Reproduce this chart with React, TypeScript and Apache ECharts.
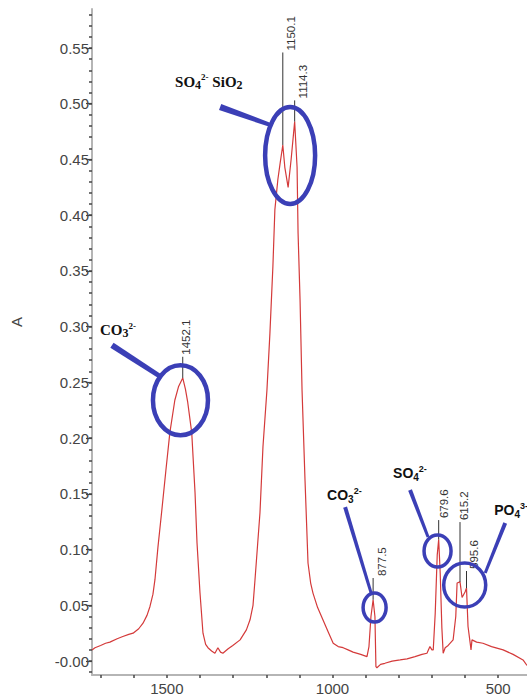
import React, { useEffect, useRef } from 'react';
import * as echarts from 'echarts';

// Spectrum (wavenumber cm-1, absorbance)
const wavenumbers = [
  1726, 1717, 1700, 1685, 1672, 1650, 1633, 1615, 1602, 1585, 1572, 1560, 1551, 1542, 1536, 1527,
  1515, 1503, 1491, 1476, 1465, 1452.1, 1444, 1437, 1425, 1415, 1409, 1400, 1391, 1383, 1376, 1365,
  1355, 1346, 1338, 1331, 1315, 1301, 1279, 1260, 1249, 1240, 1234, 1226, 1219, 1210, 1198, 1189,
  1180, 1174, 1165, 1158, 1150.1, 1144, 1134, 1125, 1114.3, 1107, 1104, 1098, 1092, 1083, 1074, 1066,
  1059, 1045, 1029, 1013, 998, 983, 968, 953, 938, 915, 896, 890, 884, 877.5, 872, 869,
  866, 855, 842, 820, 796, 775, 751, 730, 715, 706, 700, 696, 690, 684, 679.6, 675,
  670, 666, 660, 651, 636, 628, 624, 615.2, 609, 600, 595.6, 591, 584, 582, 579, 565,
  546, 520, 485, 455, 425, 413,
];
const absorbance = [
  0.010, 0.012, 0.014, 0.016, 0.017, 0.020, 0.022, 0.024, 0.025, 0.029, 0.034, 0.041, 0.049, 0.060, 0.073, 0.102,
  0.136, 0.171, 0.205, 0.234, 0.246, 0.254, 0.244, 0.232, 0.205, 0.151, 0.106, 0.061, 0.025, 0.015, 0.012, 0.009,
  0.007, 0.012, 0.008, 0.007, 0.011, 0.014, 0.019, 0.028, 0.037, 0.050, 0.073, 0.105, 0.133, 0.192, 0.243, 0.294,
  0.354, 0.405, 0.432, 0.447, 0.463, 0.443, 0.425, 0.450, 0.484, 0.443, 0.384, 0.324, 0.243, 0.162, 0.088, 0.070,
  0.061, 0.048, 0.037, 0.026, 0.016, 0.013, 0.012, 0.010, 0.008, 0.006, 0.004, 0.013, 0.040, 0.055, 0.040, -0.005,
  -0.006, -0.003, -0.002, 0.000, 0.001, 0.002, 0.004, 0.006, 0.007, 0.013, 0.010, 0.010, 0.043, 0.095, 0.109, 0.079,
  0.030, 0.007, 0.012, 0.014, 0.019, 0.040, 0.070, 0.071, 0.057, 0.062, 0.0655, 0.031, 0.015, 0.010, 0.019, 0.017,
  0.016, 0.013, 0.010, 0.006, 0.001, -0.004,
];

const xTickValues = [1700, 1600, 1500, 1400, 1300, 1200, 1100, 1000, 900, 800, 700, 600, 500];
const xLabelValues = [1500, 1000, 500];
const yLabelValues = [0, 0.05, 0.1, 0.15, 0.2, 0.25, 0.3, 0.35, 0.4, 0.45, 0.5, 0.55];
const yMinorValues = Array.from({ length: 60 }, (_, i) => (i - 1) / 100);

// Peak labels
const peakWavenumbers = [1452.1, 1150.1, 1114.3, 877.5, 679.6, 615.2, 595.6];
const peakAbsorbance = [0.254, 0.463, 0.484, 0.055, 0.109, 0.071, 0.0655];
const peakLineTops = [0.273, 0.546, 0.503, 0.0745, 0.1265, 0.1247, 0.0808];
const peakLabels = ['1452.1', '1150.1', '1114.3', '877.5', '679.6', '615.2', '595.6'];
const peakTextOffsets = [3, 8, 8, 9, 5, 4, 7];

// Annotation ellipse centres (wavenumber, absorbance)
const annotationCenters = [
  [1459, 0.234],
  [1128, 0.4536],
  [873, 0.048],
  [683, 0.0987],
  [601, 0.0682],
];
const annotationTexts = [
  '{m|CO}{s|3}{p|2-}',
  '{m|SO}{s|4}{p|2-}{m| SiO}{s|2}',
  '{m|CO}{s|3}{p|2-}',
  '{m|SO}{s|4}{p|2-}',
  '{m|PO}{s|4}{p|3-}',
];

const BLUE = '#3b3fb6';
const serifRich = {
  m: { fontFamily: 'Liberation Serif', fontWeight: 'bold', fontSize: 15, fill: '#111', lineHeight: 18, verticalAlign: 'middle' },
  s: { fontFamily: 'Liberation Serif', fontWeight: 'bold', fontSize: 12, fill: '#111', lineHeight: 12, verticalAlign: 'bottom' },
  p: { fontFamily: 'Liberation Serif', fontWeight: 'bold', fontSize: 9, fill: '#111', lineHeight: 10, verticalAlign: 'top' },
};
const sansRich = {
  m: { fontFamily: 'Liberation Sans', fontWeight: 'bold', fontSize: 14, fill: '#111', lineHeight: 18, verticalAlign: 'middle' },
  s: { fontFamily: 'Liberation Sans', fontWeight: 'bold', fontSize: 10, fill: '#111', lineHeight: 11, verticalAlign: 'bottom' },
  p: { fontFamily: 'Liberation Sans', fontWeight: 'bold', fontSize: 9, fill: '#111', lineHeight: 10, verticalAlign: 'top' },
};
// layout in pixels relative to ellipse centre
const annotationLayout = [
  { rx: 27.5, ry: 35, lw: 4.5, from: [-68.5, -55], to: [-19, -23], w1: 6, w2: 4.5, text: [-80.5, -70], rich: serifRich },
  { rx: 25, ry: 48.5, lw: 4.5, from: [-70, -48.5], to: [-20, -30.5], w1: 6.5, w2: 4, text: [-115, -73.5], rich: serifRich },
  { rx: 11.5, ry: 14.5, lw: 3.5, from: [-29.5, -100.5], to: [-3, -13], w1: 4, w2: 3, text: [-47.5, -112.5], rich: sansRich },
  { rx: 13.5, ry: 16, lw: 3.5, from: [-27.5, -61], to: [-9.5, -14], w1: 4, w2: 3, text: [-44.5, -78], rich: sansRich },
  { rx: 21, ry: 22, lw: 3.5, from: [40.5, -62], to: [20.5, -12], w1: 4, w2: 3, text: [29.5, -75], rich: sansRich },
];

function taper(p: number[], q: number[], w1: number, w2: number) {
  const dx = q[0] - p[0];
  const dy = q[1] - p[1];
  const len = Math.sqrt(dx * dx + dy * dy) || 1;
  const nx = -dy / len;
  const ny = dx / len;
  return [
    [p[0] + (nx * w1) / 2, p[1] + (ny * w1) / 2],
    [q[0] + (nx * w2) / 2, q[1] + (ny * w2) / 2],
    [q[0] - (nx * w2) / 2, q[1] - (ny * w2) / 2],
    [p[0] - (nx * w1) / 2, p[1] - (ny * w1) / 2],
  ];
}

export default function App() {
  const ref = useRef<HTMLDivElement>(null);
  useEffect(() => {
    if (!ref.current) return;
    const chart = echarts.init(ref.current, null, { renderer: 'svg' });
    const labelFont = { fontFamily: 'Liberation Sans', fontSize: 15, color: '#444' };
    const option: any = {
      animation: false,
      backgroundColor: '#fff',
      grid: { left: 92, right: 0, top: 9, bottom: 23, containLabel: false },
      xAxis: [
        {
          type: 'value',
          inverse: true,
          min: 413,
          max: 1726,
          axisLine: { show: true, onZero: false, lineStyle: { color: '#b5b5b5', width: 2 } },
          axisTick: { show: true, customValues: xTickValues, length: 3, lineStyle: { color: '#444', width: 1.5 } },
          axisLabel: {
            show: true,
            customValues: xLabelValues,
            margin: 6,
            ...labelFont,
            formatter: (v: number) => String(Math.round(v)),
          },
          splitLine: { show: false },
        },
      ],
      yAxis: [
        {
          type: 'value',
          min: -0.0125,
          max: 0.585,
          axisLine: { show: true, onZero: false, lineStyle: { color: '#b5b5b5', width: 2 } },
          axisTick: { show: true, customValues: yLabelValues, length: 6, lineStyle: { color: '#444', width: 1.2 } },
          axisLabel: {
            show: true,
            customValues: yLabelValues,
            margin: 3,
            ...labelFont,
            formatter: (v: number) => (Math.abs(v) < 1e-9 ? '-0.00' : v.toFixed(2)),
          },
          splitLine: { show: false },
        },
        {
          type: 'value',
          min: -0.0125,
          max: 0.585,
          position: 'left',
          axisLine: { show: false },
          axisTick: { show: true, customValues: yMinorValues, length: 3, lineStyle: { color: '#444', width: 1.5 } },
          axisLabel: { show: false },
          splitLine: { show: false },
        },
      ],
      graphic: [
        {
          type: 'text',
          x: 16,
          y: 322,
          rotation: Math.PI / 2,
          style: { text: 'A', fontFamily: 'Liberation Sans', fontSize: 15, fill: '#444', align: 'center', verticalAlign: 'middle' },
        },
      ],
      series: [
        {
          type: 'line',
          data: wavenumbers.map((w, i) => [w, absorbance[i]]),
          showSymbol: false,
          symbol: 'none',
          lineStyle: { color: '#d43a3a', width: 1.2 },
          clip: true,
          z: 2,
        },
        {
          type: 'custom',
          coordinateSystem: 'cartesian2d',
          clip: false,
          silent: true,
          z: 3,
          data: peakWavenumbers.map((w, i) => [w, peakAbsorbance[i], peakLineTops[i], i]),
          renderItem: (params: any, api: any) => {
            const i = api.value(3);
            const p0 = api.coord([api.value(0), api.value(1)]);
            const p1 = api.coord([api.value(0), api.value(2)]);
            return {
              type: 'group',
              children: [
                { type: 'line', shape: { x1: p0[0], y1: p0[1], x2: p1[0], y2: p1[1] }, style: { stroke: '#333', lineWidth: 1 } },
                {
                  type: 'text',
                  x: p1[0] + peakTextOffsets[i],
                  y: p1[1] - 2,
                  rotation: Math.PI / 2,
                  style: {
                    text: peakLabels[i],
                    fontFamily: 'Liberation Sans',
                    fontSize: 11.5,
                    fill: '#333',
                    align: 'left',
                    verticalAlign: 'middle',
                  },
                },
              ],
            };
          },
        },
        {
          type: 'custom',
          coordinateSystem: 'cartesian2d',
          clip: false,
          silent: true,
          z: 4,
          data: annotationCenters.map((c, i) => [c[0], c[1], i]),
          renderItem: (params: any, api: any) => {
            const i = api.value(2);
            const L = annotationLayout[i];
            const c = api.coord([api.value(0), api.value(1)]);
            const p = [c[0] + L.from[0], c[1] + L.from[1]];
            const q = [c[0] + L.to[0], c[1] + L.to[1]];
            return {
              type: 'group',
              children: [
                {
                  type: 'polygon',
                  shape: { points: taper(p, q, L.w1, L.w2) },
                  style: { fill: BLUE },
                },
                {
                  type: 'ellipse',
                  shape: { cx: c[0], cy: c[1], rx: L.rx, ry: L.ry },
                  style: { fill: 'none', stroke: BLUE, lineWidth: L.lw },
                },
                {
                  type: 'text',
                  x: c[0] + L.text[0],
                  y: c[1] + L.text[1],
                  style: {
                    text: annotationTexts[i],
                    rich: L.rich,
                    align: 'left',
                    verticalAlign: 'middle',
                  },
                },
              ],
            };
          },
        },
      ],
    };
    chart.setOption(option);
    return () => chart.dispose();
  }, []);
  return (
    <div
      ref={ref}
      style={{ position: 'fixed', left: 0, top: 0, width: 527, height: 698, background: '#fff' }}
    />
  );
}
